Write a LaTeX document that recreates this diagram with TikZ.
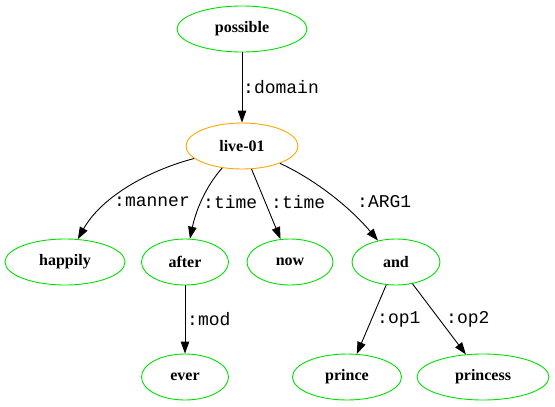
\documentclass[tikz,border=0pt]{standalone}
\usepackage{fontspec}
\setmainfont{Liberation Serif}
\newfontfamily\edgefont{Liberation Mono}
\usetikzlibrary{shapes.geometric,arrows.meta}
\definecolor{concept}{HTML}{00E000}
\definecolor{root}{HTML}{FFA500}
\tikzset{
  concept/.style={ellipse, draw=concept, line width=0.9pt, minimum height=46pt,
    inner sep=0pt, font=\fontsize{16}{19}\selectfont\bfseries},
  rootconcept/.style={concept, draw=root},
  rel/.style={draw=black, line width=0.9pt, -{Triangle[length=12pt,width=8.5pt]}},
  rellabel/.style={font=\edgefont\fontsize{18}{21}\selectfont, anchor=west, inner sep=0pt}
}
\begin{document}
\begin{tikzpicture}[x=1pt,y=-1pt]
\useasboundingbox (0,0) rectangle (555,407);
% concepts
\node[concept, minimum width=130pt] (possible) at (242,29) {possible};
\node[rootconcept, minimum width=112pt] (live) at (242,146) {live-01};
\node[concept, minimum width=120pt] (happily) at (65,262) {happily};
\node[concept, minimum width=87pt] (after) at (185,262) {after};
\node[concept, minimum width=86pt] (now) at (290,262) {now};
\node[concept, minimum width=88pt] (and) at (396,262) {and};
\node[concept, minimum width=87pt] (ever) at (185,377) {ever};
\node[concept, minimum width=109pt] (prince) at (347,377) {prince};
\node[concept, minimum width=132pt] (princess) at (483,377) {princess};
% relations
\draw[rel] (possible) -- (live);
\draw[rel] (live) .. controls (150,170) and (102,196) .. (happily);
\draw[rel] (live) .. controls (206,186) and (196,210) .. (after);
\draw[rel] (live) -- (now);
\draw[rel] (live) .. controls (312,178) and (348,205) .. (and);
\draw[rel] (after) -- (ever);
\draw[rel] (and) -- (prince);
\draw[rel] (and) -- (princess);
% relation labels
\node[rellabel] (ldomain) at (243,87) {:domain};
\node[rellabel] (lmanner) at (114,202) {:manner};
\node[rellabel] (ltimea) at (203,202) {:time};
\node[rellabel] (ltimeb) at (271,202) {:time};
\node[rellabel] (larg) at (357,202) {:ARG1};
\node[rellabel] (lmod) at (187,319) {:mod};
\node[rellabel] (lopa) at (377,319) {:op1};
\node[rellabel] (lopb) at (446,319) {:op2};
\end{tikzpicture}
\end{document}
